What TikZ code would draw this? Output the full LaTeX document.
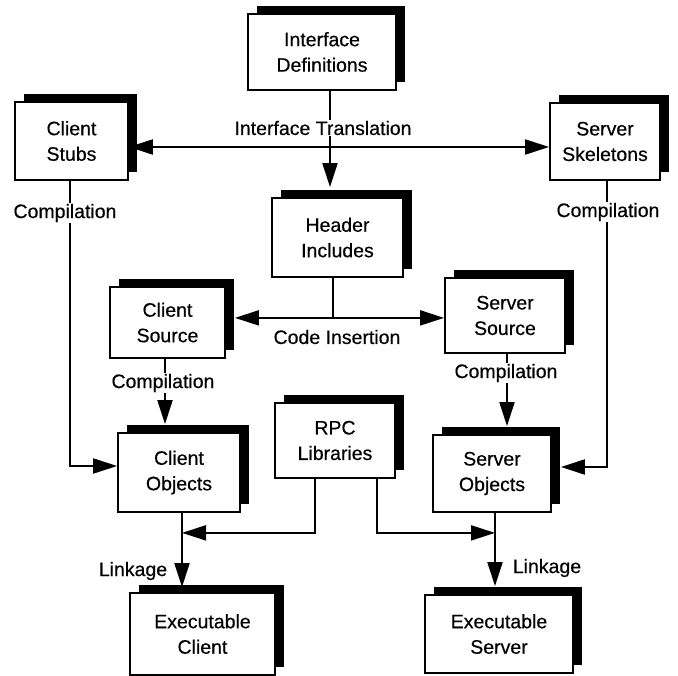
\documentclass[tikz,border=0pt]{standalone}
\usepackage{fontspec}
\setmainfont[FakeBold=0.4]{Liberation Sans}
\usetikzlibrary{arrows.meta,shadows,calc}

\begin{document}
\begin{tikzpicture}[x=1pt,y=-1pt,
  every node/.style={font=\fontsize{19.5}{25.5}\selectfont},
  doc/.style={draw, line width=1.8pt, fill=white, align=center, inner sep=0pt,
    general shadow={fill=black, shadow xshift=9pt, shadow yshift=8pt}},
  sz/.style 2 args={minimum width=#1pt, minimum height=#2pt},
  lbl/.style={inner sep=1pt},
  onwire/.style={lbl, fill=white},
  wire/.style={line width=2pt},
  tip/.tip={Triangle[length=24pt,width=15pt]},
  arr/.style={wire, -tip},
  biarr/.style={wire, tip-tip}]
\useasboundingbox (0,0) rectangle (678,676);

% documents
\node[doc, sz={148}{76}] (defs)    at (322,52)    {Interface\\Definitions};
\node[doc, sz={113}{78}] (stubs)   at (71.5,141)  {Client\\Stubs};
\node[doc, sz={110}{77}] (skel)    at (605,141.5) {Server\\Skeletons};
\node[doc, sz={131}{79}] (header)  at (337.5,237.5) {Header\\Includes};
\node[doc, sz={115}{71}] (csrc)    at (167.5,322.5) {Client\\Source};
\node[doc, sz={120}{75}] (ssrc)    at (505,315.5) {Server\\Source};
\node[doc, sz={122}{79}] (cobj)    at (179,472.5) {Client\\Objects};
\node[doc, sz={120}{75}] (rpc)     at (335,440.5) {RPC\\Libraries};
\node[doc, sz={118}{77}] (sobj)    at (492,473.5) {Server\\Objects};
\node[doc, sz={145}{82}] (eclient) at (202.5,634) {Executable\\Client};
\node[doc, sz={148}{78}] (eserver) at (499,634)   {Executable\\Server};

% interface translation
\draw[biarr] ([yshift=-6pt]stubs.east) -- ([yshift=-6pt]stubs.east -| skel.west);
\coordinate (dh) at ([xshift=8pt]defs.south);
\draw[arr] (dh) -- ($(dh |- header.north)+(0,-10)$);
\node[onwire] (trans) at (323,128) {Interface Translation};

% code insertion
\coordinate (hs) at ([xshift=-5pt]header.south);
\coordinate (ci) at ($(hs)+(0,40)$);
\draw[wire] (hs) -- (ci);
\draw[arr] (ci) -- ($(ci -| csrc.east)+(9,0)$);
\draw[arr] (ci) -- (ci -| ssrc.west);
\node[lbl] (insert) at (337,337) {Code Insertion};

% compilation of stubs and skeletons
\coordinate (sb) at ([xshift=-1.5pt]stubs.south);
\draw[arr] (sb) |- ([yshift=6.5pt]cobj.west);
\node[onwire] (comp1) at (65,213) {Compilation};
\coordinate (kb) at ([xshift=2pt]skel.south);
\draw[arr] (kb) |- ($([yshift=6.5pt]sobj.east)+(9,0)$);
\node[onwire] (comp4) at (608,212) {Compilation};

% compilation of sources
\coordinate (cs) at ([xshift=-2.5pt]csrc.south);
\draw[arr] (cs) -- ($(cs |- cobj.north)+(0,-8)$);
\node[onwire] (comp2) at (163,383) {Compilation};
\coordinate (ss) at ([xshift=2pt]ssrc.south);
\draw[arr] (ss) -- ($(ss |- sobj.north)+(0,-8)$);
\node[onwire] (comp3) at (506,373) {Compilation};

% linkage
\coordinate (rl) at ([xshift=-20pt]rpc.south);
\coordinate (rr) at ([xshift=42pt]rpc.south);
\coordinate (co) at ([xshift=3pt]cobj.south);
\coordinate (so) at ([xshift=3pt]sobj.south);
\draw[arr] (rl) |- ($(co)+(0,20)$);
\draw[arr] (rr) |- ($(so)+(0,20)$);
\draw[arr] (co) -- ($(co |- eclient.north)+(0,-5)$);
\draw[arr] (so) -- ($(so |- eserver.north)+(0,-8)$);
\node[lbl] (link1) at (133,571) {Linkage};
\node[lbl] (link2) at (547,568) {Linkage};
\end{tikzpicture}
\end{document}
